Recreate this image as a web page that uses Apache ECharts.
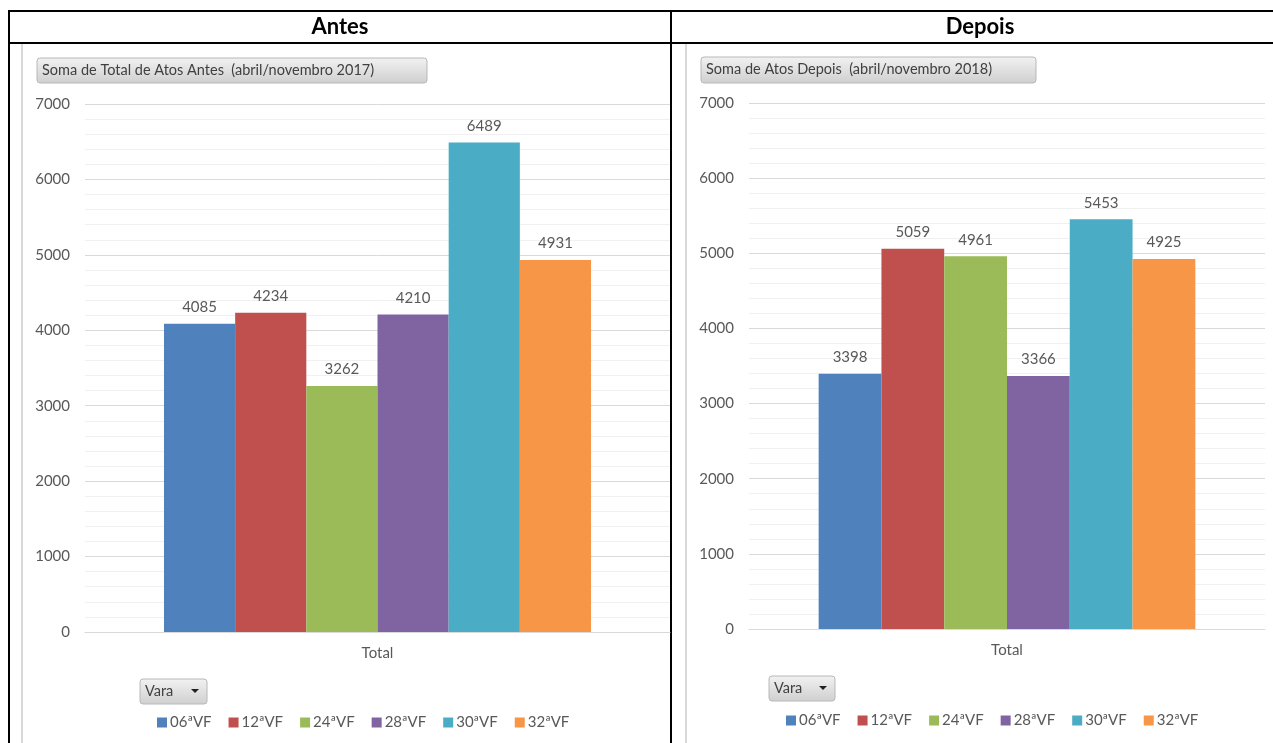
<!DOCTYPE html>
<html lang="pt">
<head>
    <meta charset="UTF-8">
    <title>Antes / Depois</title>
    <script src="https://cdn.jsdelivr.net/npm/echarts@6/dist/echarts.min.js"></script>
    <style>
        html, body { margin: 0; padding: 0; background: #fff; }
        #chart { width: 1273px; height: 743px; }
    </style>
</head>
<body>
<div id="chart"></div>
<script>
    // dados
    var categorias = ['Total'];
    var varas = ['06ªVF', '12ªVF', '24ªVF', '28ªVF', '30ªVF', '32ªVF'];
    var atosAntes = [4085, 4234, 3262, 4210, 6489, 4931];
    var atosDepois = [3398, 5059, 4961, 3366, 5453, 4925];
    var cores = ['#4f81bd', '#c0504d', '#9bbb59', '#8064a2', '#4bacc6', '#f79646'];

    var fonte = 'Lato';
    var cinza = '#595959';

    function eixoY(idx) {
        return {
            type: 'value', gridIndex: idx, min: 0, max: 7000, interval: 1000,
            axisLine: {show: false}, axisTick: {show: false},
            axisLabel: {color: cinza, fontSize: 15, fontFamily: fonte, margin: 15,
                formatter: function (v) { return String(v); }},
            splitLine: {lineStyle: {color: '#d9d9d9', width: 1}},
            minorTick: {show: false, splitNumber: 5},
            minorSplitLine: {show: true, lineStyle: {color: '#f0f0f0', width: 1}}
        };
    }

    function eixoX(idx) {
        return {
            type: 'category', gridIndex: idx, data: categorias,
            axisLine: {lineStyle: {color: '#d9d9d9'}}, axisTick: {show: false},
            axisLabel: {color: cinza, fontSize: 15, fontFamily: fonte, margin: 14}
        };
    }

    var series = [];
    varas.forEach(function (v, i) {
        [atosAntes, atosDepois].forEach(function (arr, g) {
            series.push({
                name: v, type: 'bar', xAxisIndex: g, yAxisIndex: g,
                data: [arr[i]], barGap: '0%', barCategoryGap: '27%',
                itemStyle: {color: cores[i]},
                label: {show: true, position: 'top', color: cinza, fontSize: 15, fontFamily: fonte, distance: 9}
            });
        });
    });

    function legenda(left, top) {
        return {
            data: varas, left: left, top: top, icon: 'rect', itemWidth: 10, itemHeight: 10,
            itemGap: 17, textStyle: {color: cinza, fontSize: 15, fontFamily: fonte, padding: [0, 0, 0, -2]},
            selectedMode: false
        };
    }

    function botao(x, y, w, h, txt, seta) {
        var els = [{
            type: 'rect', shape: {x: x, y: y, width: w, height: h, r: 3},
            style: {
                stroke: '#b8b8b8', lineWidth: 1,
                fill: new echarts.graphic.LinearGradient(0, 0, 0, 1, [
                    {offset: 0, color: '#f2f2f2'}, {offset: 1, color: '#cfcfcf'}])
            }
        }, {
            type: 'text', left: x + 5, top: y + 5,
            style: {text: txt, fill: '#404040', fontSize: 14.5, fontFamily: fonte}
        }];
        if (seta) {
            els.push({
                type: 'polygon',
                shape: {points: [[x + w - 16, y + 10], [x + w - 8, y + 10], [x + w - 12, y + 14]]},
                style: {fill: '#202020'}
            });
        }
        return els;
    }

    var linhas = [
        // bordas da tabela
        {type: 'line', shape: {x1: 8, y1: 11, x2: 1273, y2: 11}, style: {stroke: '#000', lineWidth: 2}},
        {type: 'line', shape: {x1: 8, y1: 43, x2: 1273, y2: 43}, style: {stroke: '#000', lineWidth: 2}},
        {type: 'line', shape: {x1: 9, y1: 10, x2: 9, y2: 743}, style: {stroke: '#000', lineWidth: 2}},
        {type: 'line', shape: {x1: 671, y1: 10, x2: 671, y2: 743}, style: {stroke: '#000', lineWidth: 2}},
        // borda cinza dos graficos
        {type: 'line', shape: {x1: 22, y1: 44, x2: 22, y2: 743}, style: {stroke: '#d9d9d9', lineWidth: 2}},
        {type: 'line', shape: {x1: 686, y1: 44, x2: 686, y2: 743}, style: {stroke: '#d9d9d9', lineWidth: 2}},
        // cabecalhos
        {type: 'text', x: 340, y: 16, style: {text: 'Antes', fill: '#000', fontSize: 22, fontWeight: 'bold', fontFamily: fonte, textAlign: 'center'}},
        {type: 'text', x: 980, y: 16, style: {text: 'Depois', fill: '#000', fontSize: 22, fontWeight: 'bold', fontFamily: fonte, textAlign: 'center'}}
    ];

    var graficos = linhas
        .concat(botao(37, 58, 390, 25, 'Soma de Total de Atos Antes  (abril/novembro 2017)', false))
        .concat(botao(701, 57, 335, 26, 'Soma de Atos Depois  (abril/novembro 2018)', false))
        .concat(botao(140, 679, 67, 25, 'Vara', true))
        .concat(botao(769, 676, 66, 25, 'Vara', true));

    var chart = echarts.init(document.getElementById('chart'));
    chart.setOption({
        animation: false,
        textStyle: {fontFamily: fonte},
        grid: [
            {left: 85, right: 603, top: 104, bottom: 111},
            {left: 749, right: 8, top: 103, bottom: 114}
        ],
        xAxis: [eixoX(0), eixoX(1)],
        yAxis: [eixoY(0), eixoY(1)],
        legend: [legenda(152, 710), legenda(781, 708)],
        series: series,
        graphic: graficos
    });
</script>
</body>
</html>
